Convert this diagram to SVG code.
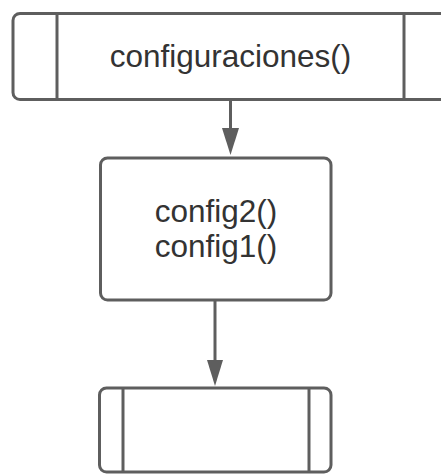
<svg xmlns="http://www.w3.org/2000/svg" width="441" height="475" viewBox="0 0 441 475">
  <style>
    .box { fill: #ffffff; stroke: #5e5e5e; stroke-width: 3; }
    .bar { fill: none; stroke: #5e5e5e; stroke-width: 3; }
    .label { font-family: "Liberation Sans", Arial, sans-serif; font-size: 31.5px; fill: #333333; text-anchor: middle; }
    .edge { fill: none; stroke: #5e5e5e; stroke-width: 3; }
    .head { fill: #5e5e5e; stroke: none; }
  </style>
  <rect width="441" height="475" fill="#ffffff"/>

  <!-- predefined process: configuraciones() -->
  <g id="node-configuraciones">
    <rect class="box" x="13" y="13.5" width="435" height="86" rx="7"/>
    <line class="bar" x1="57" y1="13.5" x2="57" y2="99.5"/>
    <line class="bar" x1="404" y1="13.5" x2="404" y2="99.5"/>
    <text class="label" x="230.5" y="66.5">configuraciones()</text>
  </g>

  <!-- process: config2() / config1() -->
  <g id="node-config">
    <rect class="box" x="100.5" y="158" width="230.5" height="142" rx="7"/>
    <text class="label" x="216" y="221.5">config2()</text>
    <text class="label" x="216" y="256.5">config1()</text>
  </g>

  <!-- predefined process, empty -->
  <g id="node-empty">
    <rect class="box" x="99.5" y="388" width="231.5" height="84" rx="7"/>
    <line class="bar" x1="123" y1="388" x2="123" y2="472"/>
    <line class="bar" x1="309" y1="388" x2="309" y2="472"/>
  </g>

  <g id="connectors">
    <line class="edge" x1="230.5" y1="100" x2="230.5" y2="130"/>
    <polygon class="head" points="222,128 239,128 230.5,155"/>
    <line class="edge" x1="215" y1="300" x2="215" y2="362"/>
    <polygon class="head" points="207,360 223,360 215,386"/>
  </g>
</svg>
